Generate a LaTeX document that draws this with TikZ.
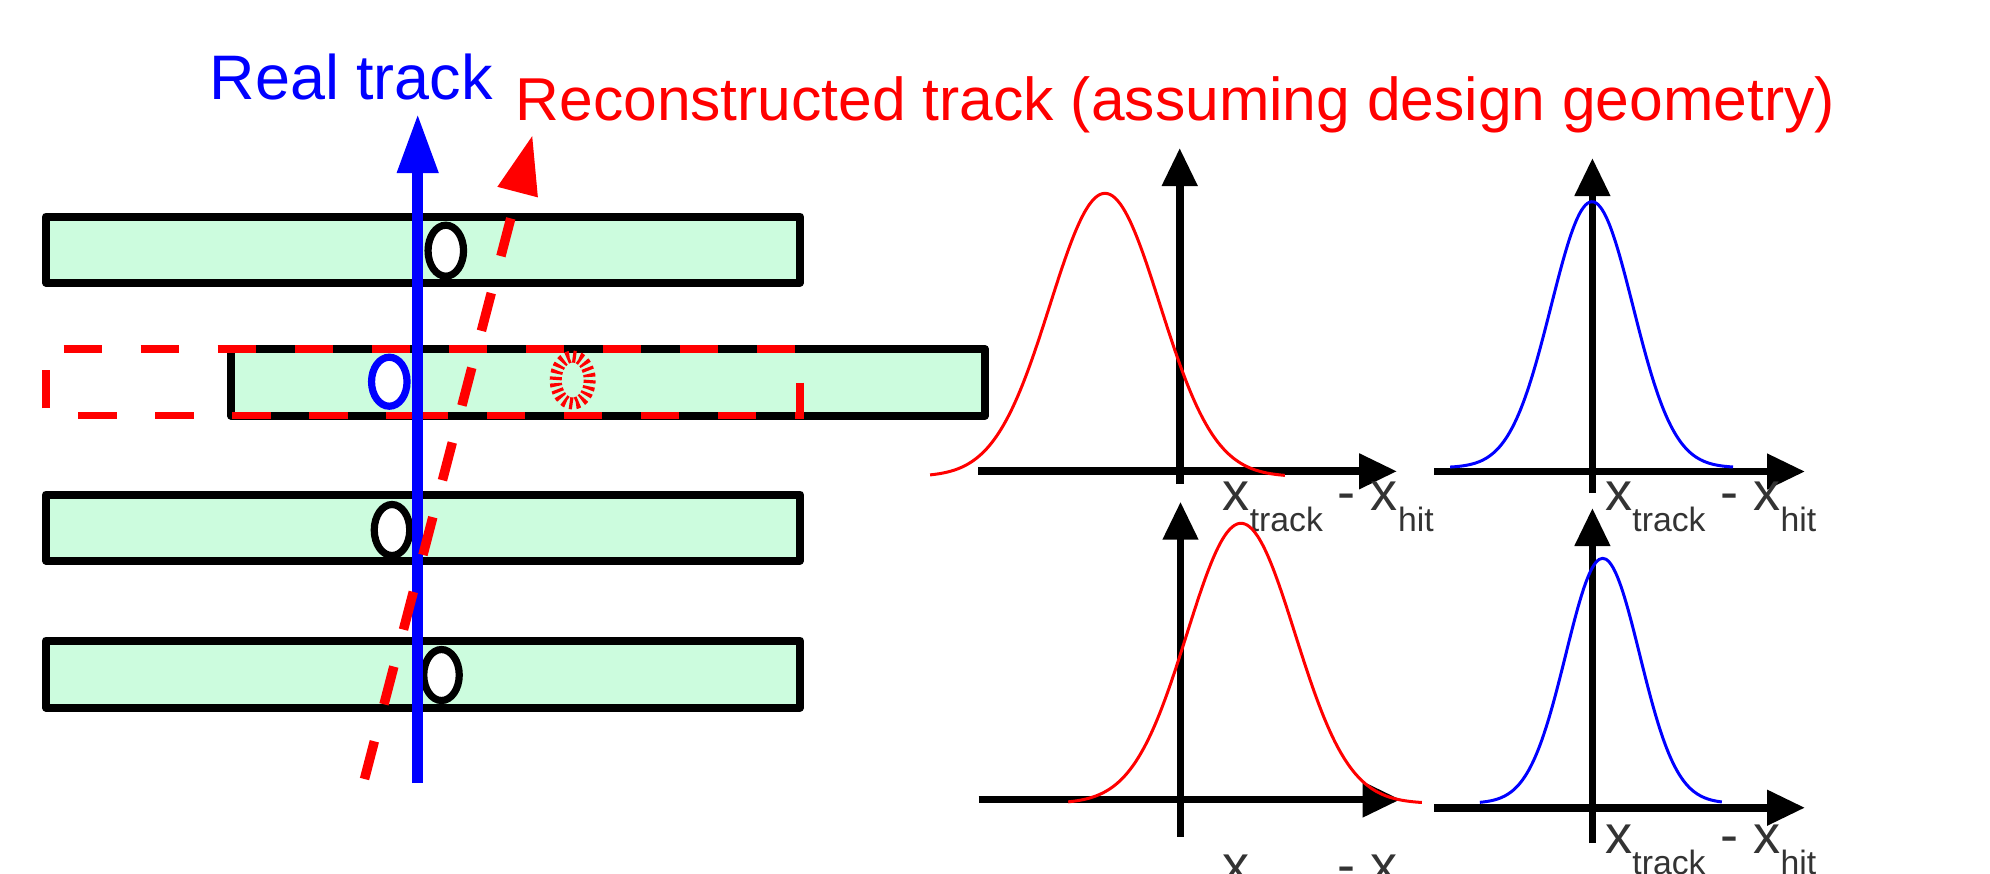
\documentclass[tikz,border=0pt]{standalone}
\usepackage{fontspec}
\setmainfont{Liberation Sans}
\usetikzlibrary{arrows.meta}

\definecolor{layergreen}{RGB}{204,252,222}
\definecolor{labelgray}{RGB}{51,51,51}
\newcommand{\subtxt}[1]{\raisebox{-2.1mm}{\fontsize{9.6}{11}\selectfont #1}}
\newcommand{\residual}{x\subtxt{track} - x\subtxt{hit}}

\begin{document}
\begin{tikzpicture}[x=0.1mm,y=-0.1mm]
\tikzset{
  layer/.style={draw,line width=0.8mm,line join=round,fill=layergreen},
  hit/.style={draw,line width=0.72mm,fill=white},
  ghosthit/.style={draw=red,line width=1.2mm,dash pattern=on 0.32mm off 0.32mm},
  designframe/.style={draw=red,line width=0.75mm,dash pattern=on 3.83mm off 3.87mm},
  realtrack/.style={draw=blue,line width=1.05mm,-{Triangle[length=5.9mm,width=3.9mm]}},
  recotrack/.style={draw=red,line width=0.95mm,dash pattern=on 3.9mm off 3.82mm,-{Triangle[length=5.9mm,width=3.9mm]}},
  axis/.style={line width=0.77mm,-{Triangle[length=3.8mm,width=3.4mm]}},
  resid/.style={line width=0.3mm},
  bigtext/.style={inner sep=0pt,anchor=base west},
  axislabel/.style={inner sep=0pt,anchor=base west,text=labelgray,font=\fontsize{15.4}{18}\selectfont}
}
\useasboundingbox (0,0) rectangle (1990,873);
\clip (0,0) rectangle (1990,873);

% detector layers
\draw[layer] (46,216.5) rectangle (800,282.5);
\draw[layer] (231,349) rectangle (985,415.5);
\draw[layer] (46,494.5) rectangle (800,560.5);
\draw[layer] (46,640.5) rectangle (800,707.5);

% hits
\draw[hit] (445.8,250.7) ellipse [x radius=17.75,y radius=25.5];
\draw[hit,draw=blue] (389.3,381.7) ellipse [x radius=17.75,y radius=24.5];
\draw[hit] (392,530) ellipse [x radius=17.75,y radius=25.5];
\draw[hit] (441.5,675) ellipse [x radius=17.75,y radius=25.5];
\draw[ghosthit] (572.7,380) ellipse [x radius=17,y radius=23.5];

% layer as in design geometry
\draw[designframe,dash phase=6.98mm] (46,415.5) -- (46,349) -- (800,349) -- (800,415.5) -- (410,415.5);
\draw[designframe,dash phase=4.47mm] (46,415.5) -- (424,415.5);

% tracks
\draw[realtrack] (417.7,783) -- (417.7,114);
\draw[recotrack] (364.5,779) -- (532.5,135);
\node[bigtext,text=blue,font=\fontsize{17.9}{21}\selectfont] (real_lbl) at (209,99) {Real track};
\node[bigtext,text=red,font=\fontsize{17.23}{21}\selectfont] (reco_lbl) at (515,120) {Reconstructed track (assuming design geometry)};

% residual distributions
\draw[axis] (1179.7,484) -- (1179.7,148);
\draw[axis] (978.3,471.3) -- (1397,471.3);
\draw[resid,red] plot[variable=\t,domain=-3.18:3.27,samples=70,smooth] ({1105+55*(\t)},{476.7-283.4*exp(-0.5*(\t)*(\t))});
\node[axislabel] (lbl_tl) at (1222,510) {\residual};

\draw[axis] (1592.4,493) -- (1592.4,158);
\draw[axis] (1434,471.5) -- (1805,471.5);
\draw[resid,blue] plot[variable=\t,domain=-3.46:3.44,samples=70,smooth] ({1592+41*(\t)},{467.7-266*exp(-0.5*(\t)*(\t))});
\node[axislabel] (lbl_tr) at (1604.6,510) {\residual};

\draw[axis] (1180.5,836.7) -- (1180.5,501.7);
\draw[axis] (978.6,799.5) -- (1400.5,799.5);
\draw[resid,red] plot[variable=\t,domain=-3.2:3.35,samples=70,smooth] ({1241+54*(\t)},{803.5-280.2*exp(-0.5*(\t)*(\t))});
\node[axislabel] (lbl_bl) at (1222,883) {\residual};

\draw[axis] (1592.4,843) -- (1592.4,508);
\draw[axis] (1434,807.7) -- (1805,807.7);
\draw[resid,blue] plot[variable=\t,domain=-3.32:3.22,samples=70,smooth] ({1602.7+37*(\t)},{803.3-245*exp(-0.5*(\t)*(\t))});
\node[axislabel] (lbl_br) at (1604.6,853) {\residual};
\end{tikzpicture}
\end{document}
